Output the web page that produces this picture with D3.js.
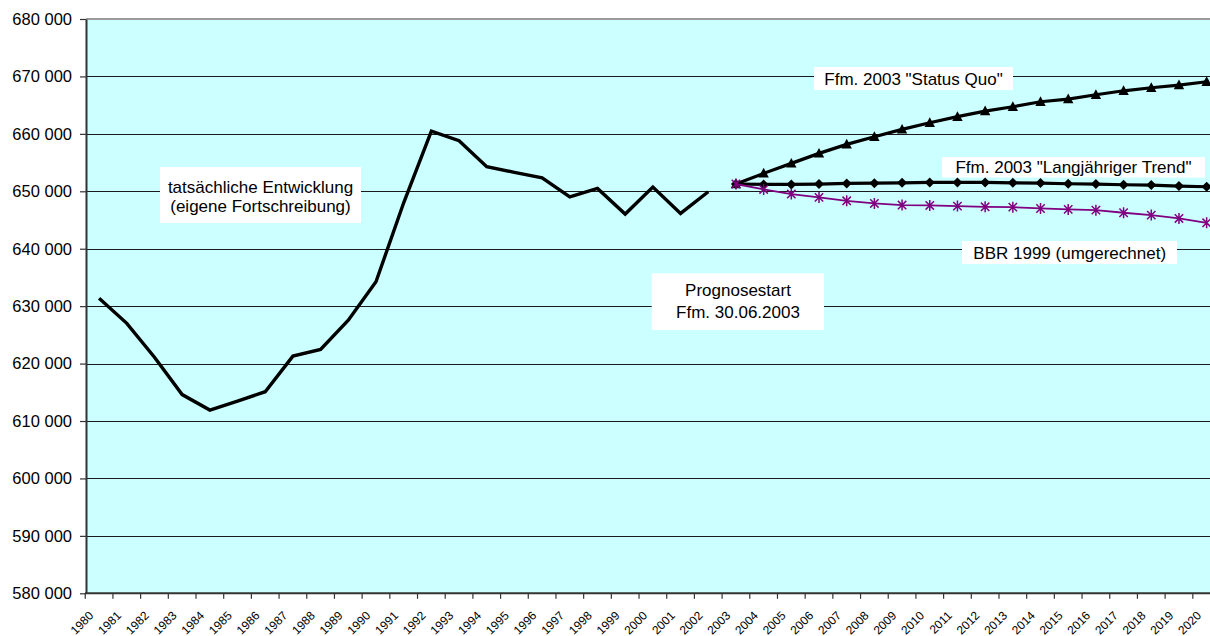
<!DOCTYPE html>
<html><head><meta charset="utf-8">
<script src="https://cdn.jsdelivr.net/npm/d3@7"></script>
<style>
html,body{margin:0;padding:0;background:#fff}
svg{display:block;font-family:"Liberation Sans",Arial,sans-serif}
</style>
</head><body>
<svg id="c" width="1210" height="636"></svg>
<script>
// ---------- data ----------
const years = [1980,1981,1982,1983,1984,1985,1986,1987,1988,1989,1990,1991,1992,1993,1994,1995,1996,1997,1998,1999,2000,2001,2002,2003,2004,2005,2006,2007,2008,2009,2010,2011,2012,2013,2014,2015,2016,2017,2018,2019,2020];
const actualYears = [1980,1981,1982,1983,1984,1985,1986,1987,1988,1989,1990,1991,1992,1993,1994,1995,1996,1997,1998,1999,2000,2001,2002];
const actual = [631370,627010,621100,614600,611900,613470,615100,621300,622450,627560,634240,648000,660490,658800,654270,653290,652350,649040,650500,646030,650730,646150,649920];
const forecastYears = [2003,2004,2005,2006,2007,2008,2009,2010,2011,2012,2013,2014,2015,2016,2017,2018,2019,2020];
const statusQuo = [651270,653120,654860,656600,658170,659500,660780,661940,662990,663970,664720,665590,666060,666810,667500,668030,668500,669070];
const trend = [651270,651200,651200,651250,651370,651420,651480,651540,651540,651540,651480,651430,651310,651250,651140,651080,650910,650790];
const bbr = [651270,650330,649510,648940,648340,647890,647600,647540,647420,647300,647240,647010,646850,646720,646260,645850,645270,644510];
const yTicks = [580000,590000,600000,610000,620000,630000,640000,650000,660000,670000,680000];
const labelSQ = 'Ffm. 2003 "Status Quo"';
const labelTrend = 'Ffm. 2003 "Langjähriger Trend"';
const labelBBR = 'BBR 1999 (umgerechnet)';
const labelActual = ['tatsächliche Entwicklung','(eigene Fortschreibung)'];
const labelStart = ['Prognosestart','Ffm. 30.06.2003'];

// ---------- layout ----------
const W = 1210, H = 636;
const plotL = 86, plotT = 19, plotB = 593.3;
const svg = d3.select('#c');

const x = d3.scaleBand().domain(years).range([85.25, 1220.5]).padding(0);
const cx = d => x(d) + x.bandwidth() / 2;
const y = d3.scaleLinear().domain([580000, 680000]).range([plotB, plotT]);

const fmt = d3.formatLocale({decimal: ',', thousands: ' ', grouping: [3], currency: ['', '']}).format(',d');

// plot background
svg.append('rect').attr('x', plotL).attr('y', plotT).attr('width', W - plotL).attr('height', plotB - plotT).attr('fill', '#CCFFFF');

// gridlines
svg.append('g').selectAll('line').data(yTicks.slice(1, -1)).join('line')
  .attr('x1', plotL).attr('x2', W)
  .attr('y1', d => Math.round(y(d)) + 0.5).attr('y2', d => Math.round(y(d)) + 0.5)
  .attr('stroke', '#1a1a1a').attr('stroke-width', 1);
// top border
svg.append('line').attr('x1', plotL).attr('x2', W).attr('y1', y(680000)).attr('y2', y(680000))
  .attr('stroke', '#9a9a9a').attr('stroke-width', 2);

// y axis
const yAxis = svg.append('g').attr('transform', `translate(${plotL},0)`)
  .call(d3.axisLeft(y).tickValues(yTicks).tickFormat(fmt).tickSize(6).tickSizeOuter(0).tickPadding(8));
yAxis.select('.domain').attr('stroke', '#333').attr('stroke-width', 2);
yAxis.selectAll('.tick line').attr('stroke', '#333').attr('stroke-width', 1.2);
yAxis.selectAll('.tick text').attr('font-size', 16.5).attr('fill', '#000').attr('font-family', '"Liberation Sans",Arial,sans-serif');

// x axis
const xAxis = svg.append('g').attr('transform', `translate(0,${plotB})`)
  .call(d3.axisBottom(x).tickSize(0).tickSizeOuter(0));
xAxis.select('.domain').remove();
xAxis.selectAll('.tick text')
  .attr('font-size', 12).attr('fill', '#000').attr('font-family', '"Liberation Sans",Arial,sans-serif')
  .attr('text-anchor', 'end').attr('x', 0).attr('y', 0).attr('dy', 0)
  .attr('transform', 'translate(-4.8,23) rotate(-45)');
// tick marks at category boundaries
svg.append('g').selectAll('line').data(years).join('line')
  .attr('x1', d => x(d)).attr('x2', d => x(d))
  .attr('y1', plotB).attr('y2', plotB + 5.5)
  .attr('stroke', '#333').attr('stroke-width', 1.2);
svg.append('line').attr('x1', plotL - 1).attr('x2', W).attr('y1', plotB).attr('y2', plotB)
  .attr('stroke', '#333').attr('stroke-width', 2);

// ---------- annotation boxes ----------
function box(rx, ry, rw, rh, lines, tx, baselines) {
  const g = svg.append('g');
  g.append('rect').attr('x', rx).attr('y', ry).attr('width', rw).attr('height', rh).attr('fill', '#fff');
  lines.forEach((t, i) => {
    g.append('text').attr('x', tx).attr('y', baselines[i]).attr('text-anchor', 'middle')
      .attr('font-size', 17).attr('fill', '#000').text(t);
  });
}
box(814, 67, 199, 23, [labelSQ], 913.5, [85]);
box(942, 157, 263, 20.5, [labelTrend], 1073.5, [172.8]);
box(962, 241, 215, 23, [labelBBR], 1069.7, [258.5]);
box(160, 167, 201, 56, labelActual, 260.5, [192.7, 212.3]);
box(651.7, 273.3, 172.3, 56.7, labelStart, 738, [295.7, 318.3]);

// ---------- series ----------
const line = d3.line().x(d => cx(d[0])).y(d => y(d[1]));

svg.append('path').datum(actualYears.map((yr, i) => [yr, actual[i]]))
  .attr('d', line).attr('fill', 'none').attr('stroke', '#000').attr('stroke-width', 3.4).attr('stroke-linejoin', 'miter');

const sqData = forecastYears.map((yr, i) => [yr, statusQuo[i]]);
const trData = forecastYears.map((yr, i) => [yr, trend[i]]);
const bbData = forecastYears.map((yr, i) => [yr, bbr[i]]);

svg.append('path').datum(sqData).attr('d', line).attr('fill', 'none').attr('stroke', '#000').attr('stroke-width', 3.2);
svg.append('g').selectAll('path').data(sqData).join('path')
  .attr('transform', d => `translate(${cx(d[0])},${y(d[1])})`)
  .attr('d', 'M0,-5.5L5.2,4.2L-5.2,4.2Z').attr('fill', '#000');

svg.append('path').datum(trData).attr('d', line).attr('fill', 'none').attr('stroke', '#000').attr('stroke-width', 3.2);
svg.append('g').selectAll('path').data(trData).join('path')
  .attr('transform', d => `translate(${cx(d[0])},${y(d[1])})`)
  .attr('d', 'M0,-5L5,0L0,5L-5,0Z').attr('fill', '#000');

svg.append('path').datum(bbData).attr('d', line).attr('fill', 'none').attr('stroke', '#800080').attr('stroke-width', 1.8);
svg.append('g').selectAll('path').data(bbData).join('path')
  .attr('transform', d => `translate(${cx(d[0])},${y(d[1])})`)
  .attr('d', 'M-4.2,-4.2L4.2,4.2M-4.2,4.2L4.2,-4.2M0,-5.5L0,5.5')
  .attr('fill', 'none').attr('stroke', '#800080').attr('stroke-width', 1.5);
</script>
</body></html>
